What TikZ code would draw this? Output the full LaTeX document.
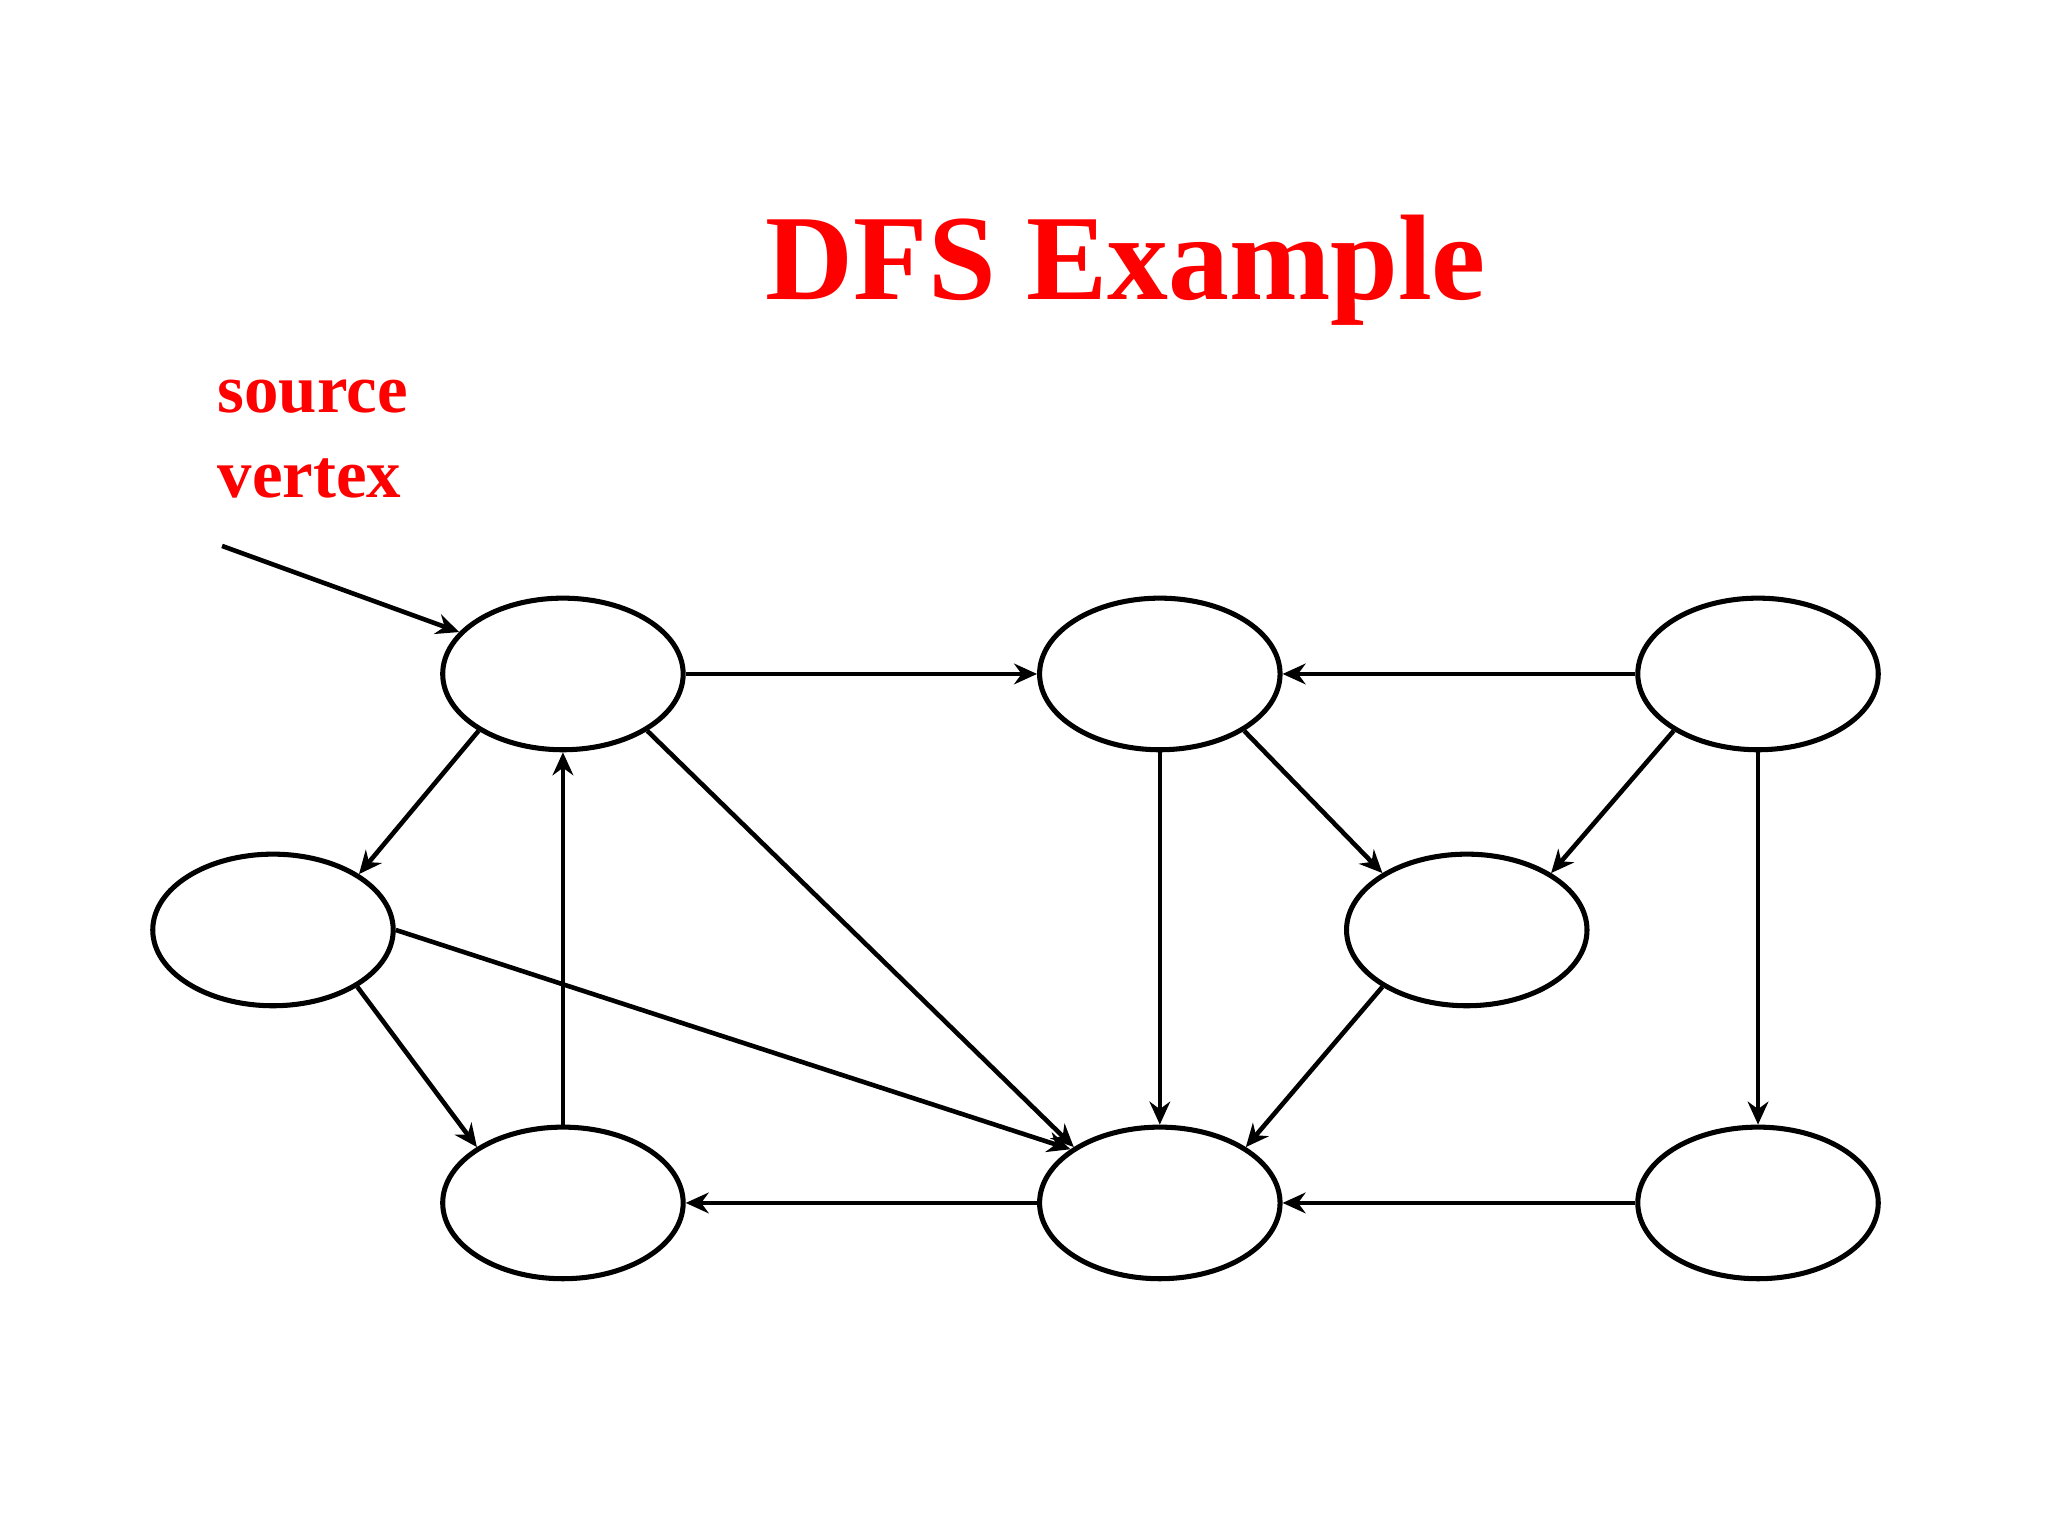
\documentclass[tikz,border=0pt]{standalone}
\usepackage{fontspec}
\setmainfont{Liberation Serif}
\usetikzlibrary{arrows.meta,shapes.geometric}
\definecolor{tred}{RGB}{255,0,0}
\begin{document}
\begin{tikzpicture}[x=0.01cm,y=-0.01cm,
  vtx/.style={draw,ellipse,line width=1.1pt,minimum width=1.84cm,minimum height=1.16cm,inner sep=0pt},
  arr/.style={line width=1pt,-{Stealth[length=5pt,width=4.5pt]}}]
\useasboundingbox (0,0) rectangle (1568,1176);
\node[text=tred,font=\bfseries\fontsize{26.5}{32}\selectfont] (title) at (862,207) {DFS Example};
\node[text=tred,font=\bfseries\fontsize{15}{18.5}\selectfont,align=left,anchor=north west,inner sep=0pt] (src) at (166,290) {source\\vertex};
\node[vtx] (A) at (431,516) {};
\node[vtx] (B) at (888,516) {};
\node[vtx] (C) at (1346,516) {};
\node[vtx] (D) at (209,712) {};
\node[vtx] (E) at (1123,712) {};
\node[vtx] (F) at (431,921) {};
\node[vtx] (G) at (888,921) {};
\node[vtx] (H) at (1346,921) {};
\coordinate (s) at (170,418);
\draw[arr] (s) -- (A.158);
\draw[arr] (A) -- (B);
\draw[arr] (C) -- (B);
\draw[arr] (A.-146) -- (D.33);
\draw[arr] (F) -- (A);
\draw[arr] (A.-34) -- (G.147);
\draw[arr] (D.east) -- (G.149);
\draw[arr] (D.-34) -- (F.147);
\draw[arr] (B) -- (G);
\draw[arr] (B.-34) -- (E.146);
\draw[arr] (C.-146) -- (E.34);
\draw[arr] (C) -- (H);
\draw[arr] (E.-146) -- (G.33);
\draw[arr] (G) -- (F);
\draw[arr] (H) -- (G);
\end{tikzpicture}
\end{document}
